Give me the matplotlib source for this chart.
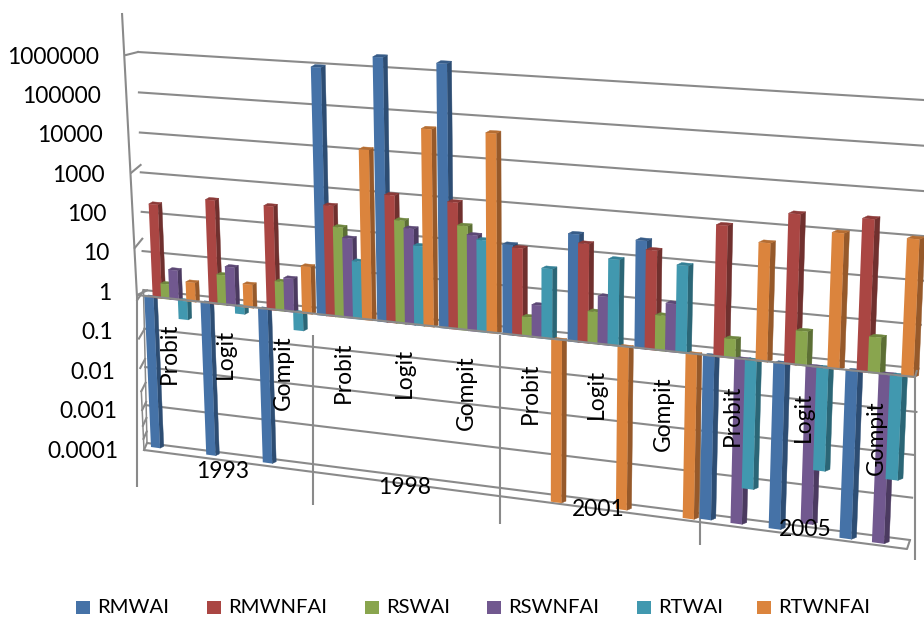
import numpy as np
import matplotlib
matplotlib.use("Agg")
import matplotlib.pyplot as plt
from matplotlib.transforms import Transform

YEARS = ["1993", "1998", "2001", "2005"]
MODELS = ["Probit", "Logit", "Gompit"] * 4
SERIES = ["RMWAI", "RMWNFAI", "RSWAI", "RSWNFAI", "RTWAI", "RTWNFAI"]
TICKS = [1000000, 100000, 10000, 1000, 100, 10, 1, 0.1, 0.01, 0.001, 0.0001]
TICK_LABELS = ["1000000", "100000", "10000", "1000", "100", "10", "1", "0.1", "0.01", "0.001", "0.0001"]

RMWAI = [0.0001, 0.0001, 0.0001, 1300000, 2700000, 2300000, 155, 375, 360, 0.00012, 0.00012, 0.00012]
RMWNFAI = [270, 460, 430, 590, 1400, 1250, 135, 235, 225, 1150, 2800, 2900]
RSWAI = [2.5, 6, 5.7, 180, 355, 355, 3.1, 6, 7, 2.9, 6.4, 6.8]
RSWNFAI = [6, 10, 7.2, 100, 235, 220, 6.3, 14.5, 14, 0.00012, 0.0002, 0.00012]
RTWAI = [0.33, 0.66, 0.36, 28, 93, 175, 50, 115, 115, 0.0009, 0.004, 0.004]
RTWNFAI = [3.2, 4, 16, 16000, 63000, 63000, 0.0001, 0.00011, 0.00011, 550, 1250, 1250]
VALUES = [RMWAI, RMWNFAI, RSWAI, RSWNFAI, RTWAI, RTWNFAI]

COLORS = ["#4572A7", "#AA4643", "#89A54E", "#71588F", "#4198AF", "#DB843D"]
SIDES = ["#2D4D73", "#70302E", "#5C6F35", "#4B3A60", "#2B6676", "#96592A"]
CAPS = ["#375C88", "#8C3A38", "#6F863F", "#5C4875", "#348096", "#B56D32"]
GREY = "#8A8A8A"

W, H = 924, 621
plt.rcParams["font.family"] = ["Lato", "DejaVu Sans"]


class Homography(Transform):
    """Maps the axes unit square on to a quadrilateral given in image pixels."""
    input_dims = output_dims = 2
    is_separable = False
    has_inverse = False

    def __init__(self, p00, p10, p11, p01):
        super().__init__()
        src = [(0, 0), (1, 0), (1, 1), (0, 1)]
        dst = [(x, H - y) for x, y in (p00, p10, p11, p01)]
        A, b = [], []
        for (u, v), (x, y) in zip(src, dst):
            A.append([u, v, 1, 0, 0, 0, -u * x, -v * x])
            A.append([0, 0, 0, u, v, 1, -u * y, -v * y])
            b += [x, y]
        self.m = np.append(np.linalg.solve(np.array(A, float), np.array(b, float)), 1).reshape(3, 3)

    def transform_non_affine(self, values):
        values = np.asarray(values, float)
        q = np.column_stack([values, np.ones(len(values))]) @ self.m.T
        return q[:, :2] / q[:, 2:3]


fig = plt.figure(figsize=(W / 100, H / 100), dpi=100)
ax = fig.add_axes([0, 0, 1, 1])
ax.set_autoscale_on(False)
ax.set_xlim(0, 12)
ax.set_yscale("log")
ax.set_ylim(1e-4, 1e6)
ax.axis("off")
base = ax.transScale + ax.transLimits

T_bar = base + Homography((151, 447), (912, 551), (932, 106), (134, 62))
T_wall = base + Homography((147, 443), (910, 540), (932, 100.5), (138, 52))
T_side = base + Homography((144, 450), (147, 443), (138, 52), (126, 55))

# walls: side wall first, then back wall
for t in TICKS:
    ax.plot([0, 12], [t, t], color=GREY, lw=1.5, transform=T_side, zorder=1.7)
ax.plot([0, 0], [1e-4, 1], color=GREY, lw=1.1, transform=T_side, zorder=1.7)
for t in TICKS:
    ax.plot([0, 12], [t, t], color=GREY, lw=1.5, transform=T_wall, zorder=1.8)
ax.plot([0, 0], [1e-4, 1], color=GREY, lw=1.1, transform=T_wall, zorder=1.8)


# frame lines, in image pixels
def px(xs, ys, z=1.9, lw=1.5):
    ax.plot(xs, [H - y for y in ys], color=GREY, lw=lw, transform=None, zorder=z, solid_capstyle="butt")


px([122, 137, 137], [13, 297, 487])
for x, y0, y1 in [(313, 335, 505), (500, 335, 524), (700, 355, 545), (915, 377, 560)]:
    px([x, x], [y0, y1])
px([144, 907, 910], [450, 549, 540])
px([148, 137, 915, 917], [290, 295, 377, 370], z=50)

# bars
STEP, BW, DU, K = 0.15, 0.165, 0.07, 10 ** 0.065
z = 2.0
for i in range(12):
    for s, vals in enumerate(VALUES):
        v = vals[i]
        x0 = i + s * STEP
        x1 = x0 + BW
        top = max(v, 1)
        lo = min(v, 1)
        z += 0.01
        ax.fill([x1, x1 + DU, x1 + DU, x1], [lo, lo * K, top * K, top], color=SIDES[s],
                lw=0.3, transform=T_bar, zorder=z)
        ax.fill([x0, x1, x1 + DU, x0 + DU], [top, top, top * K, top * K], color=CAPS[s],
                lw=0.3, transform=T_bar, zorder=z)
        ax.bar(x0, v - 1, BW, bottom=1, align="edge", color=COLORS[s], lw=0,
               transform=T_bar, zorder=z + 0.001)


def label(x, y, s, **kw):
    """Figure-level text at a position in image pixels (y measured from the bottom)."""
    fig.text(x / W, y / H, s, color="black", zorder=60, **kw)


# value labels
for k, lab in enumerate(TICK_LABELS):
    label(99 + 2 * k, H - (57 + 39.4 * k), lab, ha="right", va="center", fontsize=16.4)

# category labels: anchored through the bar plane
for i, m in enumerate(MODELS):
    px_x, px_y = T_bar.transform([[i + 0.43, 10 ** -0.6]])[0]
    label(px_x, px_y, m, rotation=90, ha="center", va="top", fontsize=16.4)
for y, (cx, cy) in zip(YEARS, [(223, 471), (405, 488), (598, 509), (805, 530)]):
    label(cx, H - cy, y, ha="center", va="center", fontsize=16.4)

# legend
LEG_X = [76, 207, 365, 487, 637, 757]
for x, name, c in zip(LEG_X, SERIES, COLORS):
    ax.fill([x, x + 14, x + 14, x], [H - 614, H - 614, H - 601, H - 601], color=c, lw=0,
            transform=None, zorder=60)
    label(x + 21, H - 607.5, name, ha="left", va="center", fontsize=14.6)

fig.savefig("out.png", dpi=100)
